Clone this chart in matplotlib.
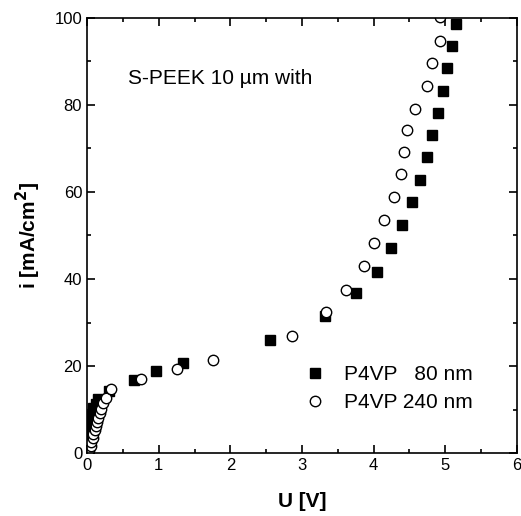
import matplotlib
matplotlib.use("Agg")
import matplotlib.pyplot as plt
from matplotlib.ticker import MultipleLocator

plt.rcParams['font.family'] = ['Liberation Sans', 'DejaVu Sans']

# P4VP 80 nm (filled squares)
u_80 = [0.03, 0.04, 0.05, 0.06, 0.07, 0.08, 0.09, 0.12, 0.16, 0.31,
        0.65, 0.96, 1.34, 2.55, 3.32, 3.76, 4.04, 4.24, 4.39, 4.53,
        4.64, 4.74, 4.82, 4.90, 4.97, 5.03, 5.09, 5.15]
i_80 = [4.5, 5.5, 6.5, 7.5, 8.5, 9.5, 10.4, 11.3, 12.3, 14.3,
        16.8, 18.8, 20.6, 26.0, 31.5, 36.7, 41.7, 47.1, 52.3, 57.6,
        62.8, 68.0, 73.2, 78.1, 83.3, 88.6, 93.6, 98.7]

# P4VP 240 nm (open circles)
u_240 = [0.03, 0.05, 0.06, 0.08, 0.09, 0.11, 0.12, 0.14, 0.16, 0.18,
         0.20, 0.23, 0.27, 0.34, 0.76, 1.25, 1.76, 2.86, 3.33, 3.61,
         3.87, 4.00, 4.15, 4.29, 4.38, 4.42, 4.46, 4.57, 4.74, 4.81,
         4.92, 4.92]
i_240 = [0.7, 1.6, 2.5, 3.4, 4.3, 5.3, 6.2, 7.2, 8.1, 9.1,
         10.2, 11.5, 12.6, 14.6, 17.1, 19.3, 21.4, 26.9, 32.4, 37.5,
         43.1, 48.2, 53.6, 58.8, 64.1, 69.3, 74.3, 79.1, 84.3, 89.6,
         94.8, 100.2]

x_ticks = [0, 1, 2, 3, 4, 5, 6]
y_ticks = [0, 20, 40, 60, 80, 100]

fig = plt.figure(figsize=(5.21, 5.16), dpi=100)
ax = fig.add_axes([87/521, 63/516, 430/521, 435/516])

ax.plot(u_80, i_80, linestyle='none', marker='s', markersize=6.5,
        markerfacecolor='black', markeredgecolor='black', label='P4VP   80 nm')
ax.plot(u_240, i_240, linestyle='none', marker='o', markersize=7.5,
        markerfacecolor='white', markeredgecolor='black', markeredgewidth=1.0,
        label='P4VP 240 nm')

ax.set_xlim(0, 6)
ax.set_ylim(0, 100)
ax.set_xticks(x_ticks)
ax.set_yticks(y_ticks)
ax.xaxis.set_minor_locator(MultipleLocator(0.5))
ax.yaxis.set_minor_locator(MultipleLocator(10))
ax.tick_params(which='both', direction='in', top=True, right=True,
               labelsize=12, width=1.2)
ax.tick_params(which='major', length=6)
ax.tick_params(which='minor', length=3)
for s in ax.spines.values():
    s.set_linewidth(1.2)

ax.set_xlabel('U [V]', fontsize=15, fontweight='bold')
ax.xaxis.set_label_coords(0.5, -0.090)
ax.set_ylabel('i [mA/cm$^\\mathbf{2}$]', fontsize=15, fontweight='bold')
ax.yaxis.set_label_coords(-0.102, 0.5)

ax.text(0.57, 86, 'S-PEEK 10 µm with', fontsize=15, va='center', ha='left')

leg = ax.legend(loc='center left', bbox_to_anchor=(0.487, 0.148), frameon=False,
                fontsize=15, handlelength=1.0, handletextpad=0.9,
                labelspacing=0.45, borderaxespad=0)

fig.savefig('out.png', dpi=100)
